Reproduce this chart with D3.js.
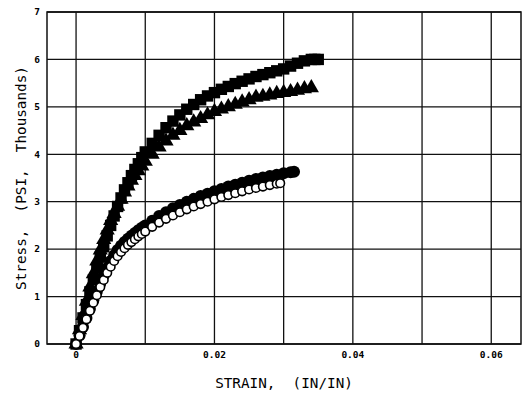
<!DOCTYPE html>
<html>
<head>
<meta charset="utf-8">
<script src="https://cdn.jsdelivr.net/npm/d3@7"></script>
<style>
  body { margin: 0; background: #fff; }
  svg { display: block; }
</style>
</head>
<body>
<svg id="chart" width="523" height="398"></svg>
<script>
// strain (in/in) and stress (psi, thousands)
const squareStrain = [0, .0005, .001, .0015, .002, .0025, .003, .0035, .004, .0045, .005, .0055, .006, .0065, .007, .0075, .008, .0085, .009, .0095, .010,
  .011, .012, .013, .014, .015, .016, .017, .018, .019, .020, .021, .022, .023, .024, .025, .026, .027, .028, .029, .030, .031, .032, .033, .034, .0345, .035];
const squareStress = [0, 0.28, 0.55, 0.83, 1.1, 1.35, 1.6, 1.83, 2.05, 2.28, 2.5, 2.7, 2.9, 3.08, 3.25, 3.4, 3.55, 3.68, 3.8, 3.93, 4.05,
  4.23, 4.4, 4.56, 4.7, 4.83, 4.95, 5.05, 5.15, 5.23, 5.3, 5.37, 5.43, 5.49, 5.54, 5.59, 5.64, 5.68, 5.72, 5.76, 5.8, 5.86, 5.92, 5.97, 6.0, 6.0, 6.0];

const triStrain = [0, .0005, .001, .0015, .002, .0025, .003, .0035, .004, .0045, .005, .0055, .006, .0065, .007, .0075, .008, .0085, .009, .0095, .010,
  .011, .012, .013, .014, .015, .016, .017, .018, .019, .020, .021, .022, .023, .024, .025, .026, .027, .028, .029, .030, .031, .032, .033, .034];
const triStress = [0, 0.3, 0.6, 0.9, 1.2, 1.48, 1.75, 1.98, 2.2, 2.4, 2.6, 2.75, 2.9, 3.05, 3.2, 3.33, 3.45, 3.55, 3.65, 3.75, 3.85,
  4.0, 4.15, 4.28, 4.4, 4.5, 4.6, 4.68, 4.75, 4.83, 4.9, 4.95, 5.0, 5.05, 5.1, 5.15, 5.2, 5.22, 5.25, 5.28, 5.3, 5.32, 5.35, 5.38, 5.4];

const dotStrain = [0, .0005, .001, .0015, .002, .0025, .003, .0035, .004, .0045, .005, .0055, .006, .0065, .007, .0075, .008, .0085, .009, .0095, .010,
  .011, .012, .013, .014, .015, .016, .017, .018, .019, .020, .021, .022, .023, .024, .025, .026, .027, .028, .029, .030, .031, .0315];
const dotStress = [0, 0.18, 0.36, 0.55, 0.74, 0.92, 1.1, 1.28, 1.45, 1.6, 1.75, 1.87, 1.98, 2.07, 2.15, 2.22, 2.28, 2.34, 2.4, 2.45, 2.5,
  2.6, 2.7, 2.78, 2.86, 2.93, 3.0, 3.06, 3.12, 3.17, 3.22, 3.27, 3.32, 3.36, 3.4, 3.44, 3.48, 3.51, 3.54, 3.57, 3.6, 3.62, 3.63];

const ringStrain = [0, .0005, .001, .0015, .002, .0025, .003, .0035, .004, .0045, .005, .0055, .006, .0065, .007, .0075, .008, .0085, .009, .0095, .010,
  .011, .012, .013, .014, .015, .016, .017, .018, .019, .020, .021, .022, .023, .024, .025, .026, .027, .028, .029, .0295];
const ringStress = [0, 0.17, 0.34, 0.52, 0.7, 0.87, 1.03, 1.2, 1.35, 1.5, 1.63, 1.75, 1.85, 1.94, 2.02, 2.09, 2.15, 2.21, 2.27, 2.32, 2.37,
  2.47, 2.56, 2.64, 2.71, 2.78, 2.84, 2.9, 2.95, 3.0, 3.05, 3.1, 3.14, 3.18, 3.22, 3.26, 3.29, 3.32, 3.35, 3.38, 3.39];

const xTicks = [0, 0.01, 0.02, 0.03, 0.04, 0.05, 0.06];
const xTickLabels = ["0", "", "0.02", "", "0.04", "", "0.06"];
const yTicks = [0, 1, 2, 3, 4, 5, 6, 7];

const svg = d3.select("#chart");
const plotLeft = 47, plotRight = 521, plotTop = 12, plotBottom = 344;

const x = d3.scaleLinear().domain([-0.0042, 0.0643]).range([plotLeft, plotRight]);
const y = d3.scaleLinear().domain([0, 7]).range([plotBottom, plotTop]);

// grid
const grid = svg.append("g").attr("stroke", "#111").attr("stroke-width", 1.3);
grid.selectAll("line.v").data(xTicks).enter().append("line")
  .attr("x1", d => x(d)).attr("x2", d => x(d))
  .attr("y1", plotTop).attr("y2", plotBottom);
grid.selectAll("line.h").data(yTicks).enter().append("line")
  .attr("x1", plotLeft).attr("x2", plotRight)
  .attr("y1", d => y(d)).attr("y2", d => y(d));
svg.append("rect")
  .attr("x", plotLeft).attr("y", plotTop)
  .attr("width", plotRight - plotLeft).attr("height", plotBottom - plotTop)
  .attr("fill", "none").attr("stroke", "#111").attr("stroke-width", 1.5);

// tick labels
svg.append("g").selectAll("text").data(xTicks).enter().append("text")
  .attr("x", d => x(d)).attr("y", plotBottom + 14)
  .attr("text-anchor", "middle")
  .style("font-family", "DejaVu Sans Mono").style("font-weight", "bold").style("font-size", "9.5px")
  .text((d, i) => xTickLabels[i]);
svg.append("g").selectAll("text").data(yTicks).enter().append("text")
  .attr("x", 40).attr("y", d => y(d)).attr("dy", "0.35em")
  .attr("text-anchor", "end")
  .style("font-family", "DejaVu Sans Mono").style("font-weight", "bold").style("font-size", "9.5px")
  .text(d => d);

// axis titles
svg.append("text")
  .attr("x", 284).attr("y", 388)
  .attr("text-anchor", "middle")
  .style("font-family", "DejaVu Sans Mono").style("font-size", "14.3px")
  .style("white-space", "pre")
  .text("STRAIN,  (IN/IN)");
svg.append("text")
  .attr("transform", "translate(26,178) rotate(-90)")
  .attr("text-anchor", "middle")
  .style("font-family", "DejaVu Sans Mono").style("font-size", "14.3px")
  .style("white-space", "pre")
  .text("Stress,  (PSI,  Thousands)");

// markers
const plot = svg.append("g");
const squares = d3.zip(squareStrain, squareStress);
const tris = d3.zip(triStrain, triStress);
const dots = d3.zip(dotStrain, dotStress);
const rings = d3.zip(ringStrain, ringStress);

plot.selectAll("path.sq").data(squares).enter().append("path")
  .attr("transform", d => "translate(" + x(d[0]) + "," + y(d[1]) + ")")
  .attr("d", d3.symbol(d3.symbolSquare, 130))
  .attr("fill", "#000");
plot.selectAll("path.tri").data(tris).enter().append("path")
  .attr("transform", d => "translate(" + x(d[0]) + "," + y(d[1]) + ")")
  .attr("d", d3.symbol(d3.symbolTriangle, 100))
  .attr("fill", "#000");
plot.selectAll("circle.dot").data(dots).enter().append("circle")
  .attr("cx", d => x(d[0])).attr("cy", d => y(d[1])).attr("r", 6)
  .attr("fill", "#000");
plot.selectAll("circle.ring").data(rings).enter().append("circle")
  .attr("cx", d => x(d[0])).attr("cy", d => y(d[1])).attr("r", 4.3)
  .attr("fill", "#fff").attr("stroke", "#000").attr("stroke-width", 1.6);
</script>
</body>
</html>
